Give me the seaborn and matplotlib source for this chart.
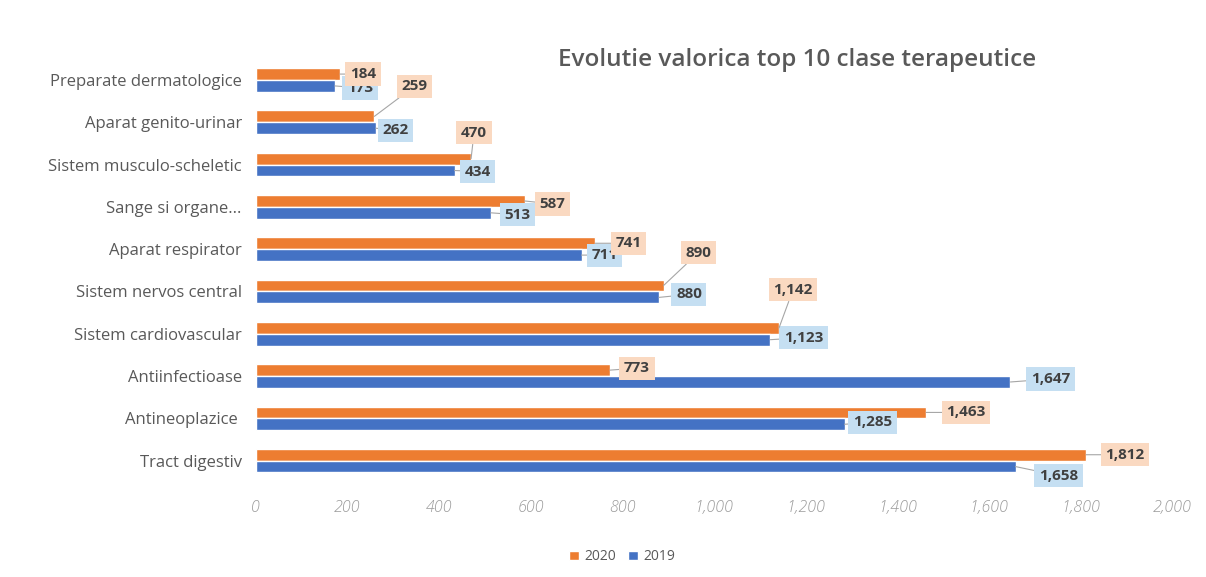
import matplotlib
matplotlib.use("Agg")
import matplotlib.pyplot as plt
import seaborn as sns
import pandas as pd

categories = ["Preparate dermatologice", "Aparat genito-urinar", "Sistem musculo-scheletic",
              "Sange si organe...", "Aparat respirator", "Sistem nervos central",
              "Sistem cardiovascular", "Antiinfectioase", "Antineoplazice ", "Tract digestiv"]
values_2020 = [184, 259, 470, 587, 741, 890, 1142, 773, 1463, 1812]
values_2019 = [173, 262, 434, 513, 711, 880, 1123, 1647, 1285, 1658]
years = ["2020", "2019"]
x_ticks = [0, 200, 400, 600, 800, 1000, 1200, 1400, 1600, 1800, 2000]
title = "Evolutie valorica top 10 clase terapeutice"

df = pd.DataFrame({
    "category": categories * 2,
    "year": ["2020"] * len(categories) + ["2019"] * len(categories),
    "value": values_2020 + values_2019,
})

sns.set_theme(style="white")
plt.rcParams["font.family"] = ["Open Sans", "DejaVu Sans"]

fig = plt.figure(figsize=(12.06, 5.77), dpi=100)
ax = fig.add_axes([0.212, 0.165, 0.760, 0.733])

colors = {"2020": "#ED7D31", "2019": "#4472C4"}
sns.barplot(data=df, y="category", x="value", hue="year", hue_order=years,
            order=categories, palette=colors, width=0.56, orient="h", ax=ax,
            saturation=1, errorbar=None)

ax.set_xlim(0, 2000)
ax.set_xticks(x_ticks)
ax.set_xticklabels([f"{t:,}" for t in x_ticks], fontstyle="italic", color="#9A9A9A",
                   fontsize=11.5, fontweight="light")
ax.tick_params(axis="x", length=0, pad=13)
ax.tick_params(axis="y", length=0, pad=10, labelsize=12, labelcolor="#595959")
ax.set_xlabel("")
ax.set_ylabel("")
for s in ax.spines.values():
    s.set_visible(False)
ax.grid(False)

# label offsets in pixels (dx, dy with screen y down) from bar end
off_2020 = [(23, 0), (40, -30), (3, -26), (28, 3), (33, 0), (35, -33), (14, -38), (27, -2), (40, 0), (39, 0)]
off_2019 = [(25, 2), (20, 2), (23, 1), (27, 2), (23, 0), (30, -3), (33, -2), (40, -3), (28, -2), (43, 9)]
box_col = {"2020": "#FAD9C1", "2019": "#C5DFF2"}
z_lab = {"2020": 7, "2019": 5}

for cont, yr, offs in zip(ax.containers, years, [off_2020, off_2019]):
    for bar, (dx, dy) in zip(cont, offs):
        w = bar.get_width()
        yc = bar.get_y() + bar.get_height() / 2
        ax.annotate(f"{int(round(w)):,}", xy=(w, yc), xytext=(dx * 0.72, -dy * 0.72),
                    textcoords="offset points", ha="center", va="center",
                    fontsize=11, fontweight="bold", color="#404040",
                    bbox=dict(boxstyle="square,pad=0.3", fc=box_col[yr], ec="none"),
                    arrowprops=dict(arrowstyle="-", color="#A6A6A6", lw=0.8,
                                    shrinkA=0, shrinkB=0),
                    annotation_clip=False, zorder=z_lab[yr])

handles, labels = ax.get_legend_handles_labels()
if ax.get_legend() is not None:
    ax.get_legend().remove()
fig.legend(handles, labels, loc="center", bbox_to_anchor=(0.516, 0.035), ncol=2,
           frameon=False, fontsize=10, handlelength=0.7, handleheight=0.7,
           handletextpad=0.4, columnspacing=0.9, labelcolor="#595959")

fig.text(0.661, 0.896, title, ha="center", va="center", fontsize=17.5,
         fontweight="semibold", color="#595959")

fig.savefig("out.png", dpi=100, facecolor="white")
